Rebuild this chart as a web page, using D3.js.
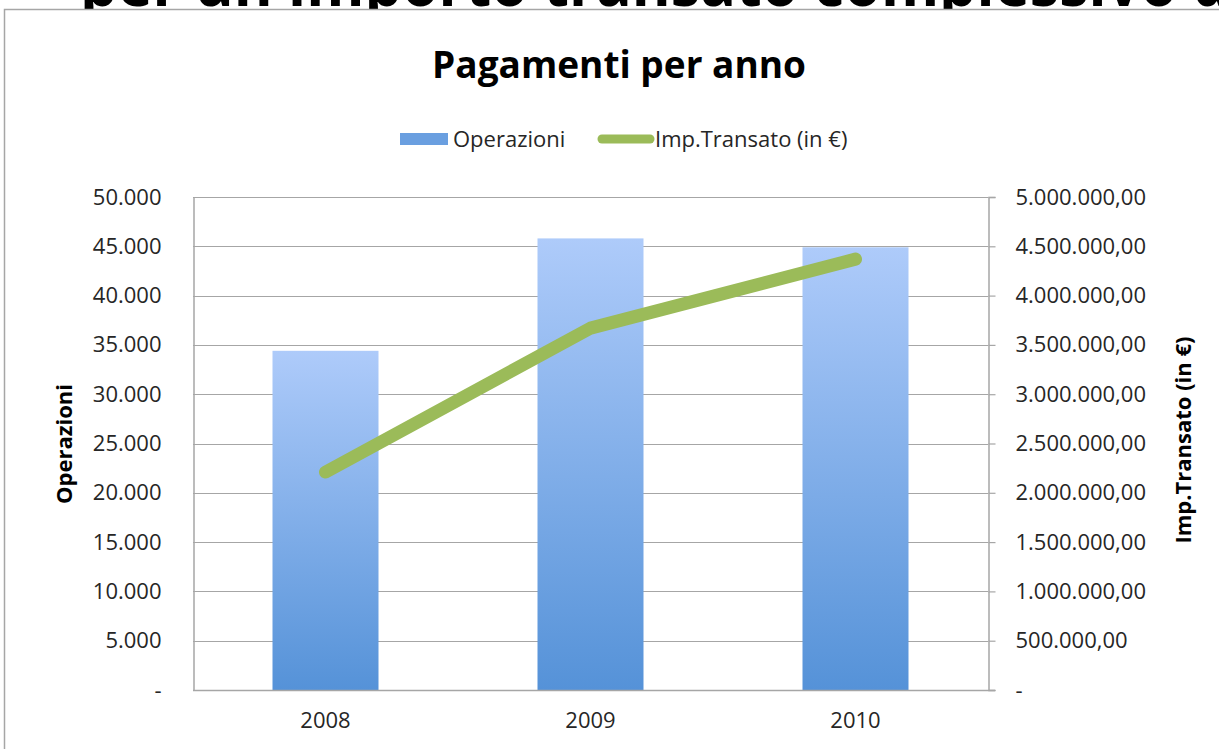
<!DOCTYPE html>
<html><head><meta charset="utf-8">
<script src="https://cdn.jsdelivr.net/npm/d3@7"></script>
<style>
html,body{margin:0;padding:0;background:#fff;overflow:hidden}
svg{display:block;font-family:"Open Sans","Noto Sans",sans-serif}
</style></head>
<body>
<svg id="c" width="1219" height="749"></svg>
<script>
const categories = ["2008", "2009", "2010"];
const operazioni = [34400, 45800, 44900];
const importo = [2210000, 3670000, 4370000];
const leftTicks = [0, 5000, 10000, 15000, 20000, 25000, 30000, 35000, 40000, 45000, 50000];
const rightTicks = [0, 500000, 1000000, 1500000, 2000000, 2500000, 3000000, 3500000, 4000000, 4500000, 5000000];
const chartTitle = "Pagamenti per anno";
const headline = "per un importo transato complessivo d";
const seriesNames = ["Operazioni", "Imp.Transato (in €)"];

const svg = d3.select("#c");
const M = {left: 193, right: 988, top: 197, bottom: 690};
const FS = 22;

// headline clipped at top
svg.append("text").attr("x", 80).attr("y", 6)
  .attr("font-size", 64).attr("font-weight", "bold").attr("fill", "#000")
  .attr("textLength", 1150).attr("lengthAdjust", "spacingAndGlyphs")
  .text(headline);

// frame
svg.append("rect").attr("x", 4.5).attr("y", 9.5).attr("width", 1300).attr("height", 800)
  .attr("fill", "#fff").attr("stroke", "#a6a6a6").attr("stroke-width", 1.5);

const defs = svg.append("defs");
const grad = defs.append("linearGradient").attr("id", "bg").attr("x1", 0).attr("y1", 0).attr("x2", 0).attr("y2", 1);
grad.append("stop").attr("offset", "0%").attr("stop-color", "#aecbfa");
grad.append("stop").attr("offset", "100%").attr("stop-color", "#5592d8");

const x = d3.scaleBand().domain(categories).range([M.left, M.right]).paddingInner(0.6).paddingOuter(0.3);
const yL = d3.scaleLinear().domain([0, 50000]).range([M.bottom, M.top]);
const yR = d3.scaleLinear().domain([0, 5000000]).range([M.bottom, M.top]);

const fmtL = d => d === 0 ? "-" : d3.format(",")(d).replace(/,/g, ".");
const fmtR = d => {
  if (d === 0) return "-";
  const s = d3.format(",.2f")(d);
  return s.replace(/,/g, "X").replace(".", ",").replace(/X/g, ".");
};

// gridlines
svg.append("g").selectAll("line").data(leftTicks.filter(d => d > 0)).join("line")
  .attr("x1", M.left).attr("x2", M.right)
  .attr("y1", d => Math.round(yL(d)) + 0.5).attr("y2", d => Math.round(yL(d)) + 0.5)
  .attr("stroke", "#a6a6a6").attr("stroke-width", 1.2);

// left axis
const gL = svg.append("g").attr("transform", `translate(${M.left + 0.5},0)`)
  .call(d3.axisLeft(yL).tickValues(leftTicks).tickFormat(fmtL).tickSize(0).tickPadding(32));
gL.select(".domain").attr("stroke", "#a6a6a6").attr("stroke-width", 1.5);
gL.selectAll("text").attr("font-size", FS).attr("fill", "#262626").attr("font-family", "Open Sans");

// right axis
const gR = svg.append("g").attr("transform", `translate(${M.right + 0.5},0)`)
  .call(d3.axisRight(yR).tickValues(rightTicks).tickFormat(fmtR).tickSize(7).tickPadding(20));
gR.select(".domain").attr("stroke", "#a6a6a6").attr("stroke-width", 1.5);
gR.selectAll(".tick line").attr("stroke", "#a6a6a6").attr("stroke-width", 1.2);
gR.selectAll("text").attr("font-size", FS).attr("fill", "#262626").attr("font-family", "Open Sans");

// bars
svg.append("g").selectAll("rect").data(categories).join("rect")
  .attr("x", d => x(d)).attr("width", x.bandwidth())
  .attr("y", (d, i) => yL(operazioni[i])).attr("height", (d, i) => yL(0) - yL(operazioni[i]))
  .attr("fill", "url(#bg)");

// bottom axis
const gB = svg.append("g").attr("transform", `translate(0,${M.bottom + 0.5})`)
  .call(d3.axisBottom(x).tickSize(0).tickPadding(22));
gB.select(".domain").attr("d", `M${M.left},0H${M.right + 7}`).attr("stroke", "#a6a6a6").attr("stroke-width", 1.5);
gB.selectAll("text").attr("font-size", FS).attr("fill", "#262626").attr("font-family", "Open Sans");

// line
const line = d3.line().x((d, i) => x(categories[i]) + x.bandwidth() / 2).y(d => yR(d));
svg.append("path").datum(importo).attr("d", line)
  .attr("fill", "none").attr("stroke", "#9bbb59").attr("stroke-width", 13)
  .attr("stroke-linecap", "round").attr("stroke-linejoin", "round");

// title
svg.append("text").attr("x", 619).attr("y", 78).attr("text-anchor", "middle")
  .attr("font-size", 37).attr("font-weight", "bold").attr("fill", "#000").text(chartTitle);

// legend
const lg = svg.append("g");
lg.append("rect").attr("x", 400).attr("y", 133).attr("width", 48).attr("height", 12).attr("fill", "#6a9fe0");
lg.append("text").attr("x", 453).attr("y", 147).attr("font-size", FS).attr("fill", "#262626").text(seriesNames[0]);
lg.append("line").attr("x1", 602).attr("x2", 650).attr("y1", 139).attr("y2", 139)
  .attr("stroke", "#9bbb59").attr("stroke-width", 9).attr("stroke-linecap", "round");
lg.append("text").attr("x", 655).attr("y", 147).attr("font-size", FS).attr("fill", "#262626").text(seriesNames[1]);

// axis titles
svg.append("text").attr("transform", "translate(72,444) rotate(-90)").attr("text-anchor", "middle")
  .attr("font-size", FS).attr("font-weight", "bold").attr("fill", "#000").text(seriesNames[0]);
svg.append("text").attr("transform", "translate(1191,440) rotate(-90)").attr("text-anchor", "middle")
  .attr("font-size", FS).attr("font-weight", "bold").attr("fill", "#000").text(seriesNames[1]);
</script>
</body></html>
